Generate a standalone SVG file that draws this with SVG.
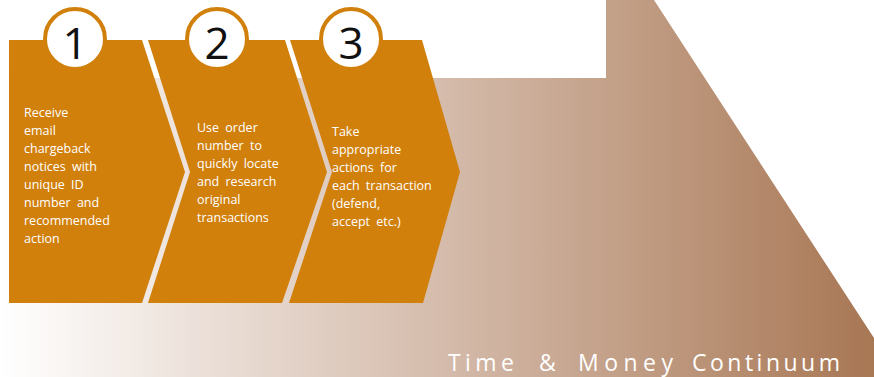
<svg xmlns="http://www.w3.org/2000/svg" width="874" height="377" viewBox="0 0 874 377">
  <defs>
    <linearGradient id="band" x1="0" y1="0" x2="874" y2="0" gradientUnits="userSpaceOnUse">
      <stop offset="0" stop-color="#FFFFFF"/>
      <stop offset="0.5" stop-color="#D5BCAC"/>
      <stop offset="1" stop-color="#A87754"/>
    </linearGradient>
  </defs>
  <style>
    .panel { fill: #D1800C; }
    .badge { fill: #FFFFFF; stroke: #D1800C; stroke-width: 4; }
    .num { font-family: "Open Sans", "Liberation Sans", sans-serif; font-size: 44px; fill: #111111; text-anchor: middle; }
    .body { font-family: "Open Sans", "Liberation Sans", sans-serif; font-size: 12.5px; fill: #FFFFFF; word-spacing: 3px; }
    .caption { font-family: "Open Sans", "Liberation Sans", sans-serif; font-size: 23px; fill: #FFFFFF; }
  </style>

  <!-- background continuum arrow -->
  <path d="M0,78 L606,78 L606,0 L654,0 L874,338 L874,377 L0,377 Z" fill="url(#band)"/>

  <g id="step1">
    <path class="panel" d="M9,40 L142,40 L185,172 L142,303 L9,303 Z"/>
    <circle class="badge" cx="75" cy="39" r="30"/>
    <text class="num" x="75" y="59">1</text>
    <text class="body">
      <tspan x="24" y="117">Receive</tspan>
      <tspan x="24" y="135">email</tspan>
      <tspan x="24" y="153">chargeback</tspan>
      <tspan x="24" y="171">notices with</tspan>
      <tspan x="24" y="189">unique ID</tspan>
      <tspan x="24" y="207">number and</tspan>
      <tspan x="24" y="225">recommended</tspan>
      <tspan x="24" y="243">action</tspan>
    </text>
  </g>

  <g id="step2">
    <path class="panel" d="M148,40 L285,40 L327,172 L282,303 L148,303 L190,172 Z"/>
    <circle class="badge" cx="217" cy="39" r="30"/>
    <text class="num" x="217" y="59">2</text>
    <text class="body">
      <tspan x="197" y="132">Use order</tspan>
      <tspan x="197" y="150">number to</tspan>
      <tspan x="197" y="168">quickly locate</tspan>
      <tspan x="197" y="186">and research</tspan>
      <tspan x="197" y="204">original</tspan>
      <tspan x="197" y="222">transactions</tspan>
    </text>
  </g>

  <g id="step3">
    <path class="panel" d="M290,40 L422,40 L460,172 L423,303 L289,303 L332,172 Z"/>
    <circle class="badge" cx="351" cy="39" r="30"/>
    <text class="num" x="351" y="59">3</text>
    <text class="body">
      <tspan x="332" y="136">Take</tspan>
      <tspan x="332" y="154">appropriate</tspan>
      <tspan x="332" y="172">actions for</tspan>
      <tspan x="332" y="190">each transaction</tspan>
      <tspan x="332" y="208">(defend,</tspan>
      <tspan x="332" y="226">accept etc.)</tspan>
    </text>
  </g>

  <text class="caption" y="371" lengthAdjust="spacing"><tspan x="448" textLength="66" lengthAdjust="spacing">Time</tspan><tspan x="539" textLength="15" lengthAdjust="spacing">&amp;</tspan><tspan x="578" textLength="95" lengthAdjust="spacing">Money</tspan><tspan x="692" textLength="148" lengthAdjust="spacing">Continuum</tspan></text>
</svg>
